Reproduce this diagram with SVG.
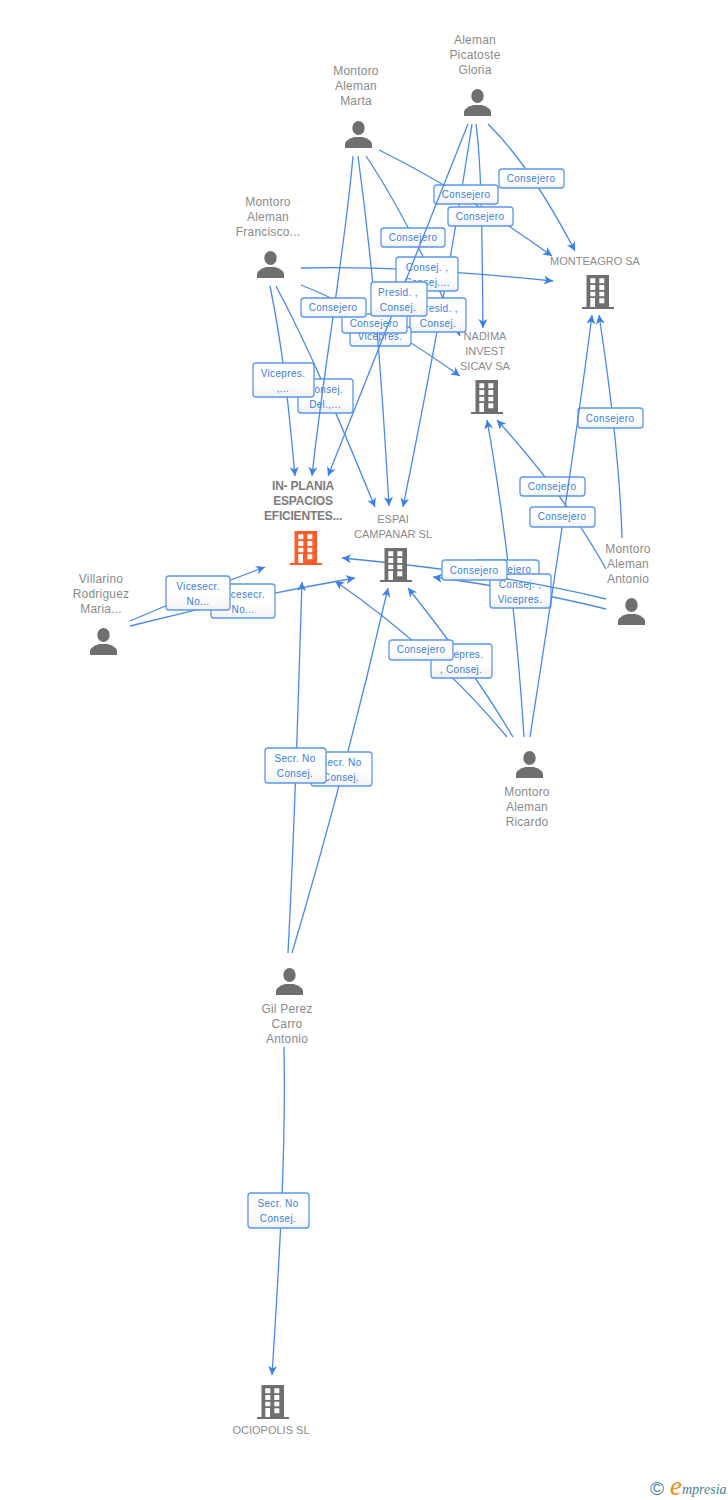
<svg xmlns="http://www.w3.org/2000/svg" width="728" height="1500" viewBox="0 0 728 1500">
<style>
text{font-family:"Liberation Sans",Arial,sans-serif}
.n{font-size:12px;fill:#8b8b8b;text-anchor:middle;letter-spacing:.2px}
.c{font-size:11px;fill:#8b8b8b;text-anchor:middle}
.b{font-size:12px;font-weight:bold;fill:#7c7c7c;text-anchor:middle;letter-spacing:-.2px}
.l{font-size:10px;fill:#3b7ddd;text-anchor:middle;letter-spacing:.35px}
.connectors path{fill:none;stroke:#4a8ae6;stroke-width:1.3;marker-end:url(#arrow)}
.labels rect{fill:url(#lg);stroke:#5b98ea;stroke-width:1.3}
.per{fill:#6f6f6f}.bld{fill:#6f6f6f}.hot{fill:#ff5a2b}
</style>
<defs>
<linearGradient id="lg" x1="0" y1="0" x2="0" y2="1"><stop offset="0" stop-color="#fff"/><stop offset=".6" stop-color="#fff"/><stop offset="1" stop-color="#f1f1f1"/></linearGradient>
<marker id="arrow" markerUnits="userSpaceOnUse" markerWidth="12" markerHeight="12" viewBox="0 0 12 12" refX="11" refY="6" orient="auto"><path d="M2,1.5 L11,6 L2,10.5 L4.5,6 Z" fill="#3b80e6"/></marker>
<symbol id="person" width="27" height="27" viewBox="0 0 27 27" overflow="visible"><ellipse cx="13.5" cy="7" rx="6.2" ry="7"/><path d="M0,27 L0,22.5 Q1,18.5 9.5,16 L17.5,16 Q26,18.5 27,22.5 L27,27 Z"/></symbol>
<symbol id="building" width="32" height="34" viewBox="0 0 32 34" overflow="visible"><path d="M0,32 H4.5 V0 H27 V32 H32 V34 H0 Z"/><path fill="#fff" d="M8.3,3.3h5v5h-5zM17.3,3.3h5v5h-5zM8.3,10h5v5h-5zM17.3,10h5v5h-5zM8.3,16.7h5v4.6h-5zM17.3,16.7h5v4.6h-5zM8.3,23h4.7v9h-4.7zM17.3,23.3h5v5h-5z"/></symbol>
</defs>

<g id="connectors-lower" class="connectors">
<path d="M270,286 C283,350 288,400 295,476"/>
<path d="M276,286 C310,350 335,410 375,507"/>
<path d="M301,285 Q370,312 460,376"/>
<path d="M301,268 Q400,265 553,281"/>
<path d="M488,124 Q530,165 575,251"/>
<path d="M476,124 C482,170 482,240 483,328"/>
<path d="M472,124 C462,190 445,300 403,507"/>
<path d="M379,150 Q460,190 552,256"/>
<path d="M366,156 Q410,222 460,336"/>
<path d="M130,621 Q190,595 265,567"/>
<path d="M130,626 Q240,598 355,578"/>
<path d="M524,737 C518,640 505,520 487,420"/>
<path d="M513,737 Q472,668 408,588"/>
<path d="M507,737 Q435,650 335,581"/>
<path d="M622,538 C620,470 612,400 599,315"/>
<path d="M606,569 Q565,495 497,420"/>
<path d="M606,609 Q530,590 433,577"/>
<path d="M288,953 C296,800 298,700 302,582"/>
<path d="M292,953 Q345,775 388,588"/>
<path d="M284,1047 C286,1150 280,1250 272,1375"/>
</g>

<g id="labels-lower" class="labels">
<g><rect x="381" y="228" width="64" height="19" rx="3"/><text class="l" x="413" y="241">Consejero</text></g>
<g><rect x="434" y="185" width="64" height="19" rx="3"/><text class="l" x="466" y="198">Consejero</text></g>
<g><rect x="448" y="207" width="65" height="19" rx="3"/><text class="l" x="480" y="220">Consejero</text></g>
<g><rect x="499" y="169" width="65" height="19" rx="3"/><text class="l" x="531" y="182">Consejero</text></g>
<g><rect x="396" y="257" width="62" height="34" rx="3"/><text class="l" x="427" y="271">Consej. ,</text><text class="l" x="427" y="286">Consej....</text></g>
<g><rect x="410" y="298" width="56" height="34" rx="3"/><text class="l" x="438" y="312">Presid. ,</text><text class="l" x="438" y="327">Consej.</text></g>
<g><rect x="350" y="327" width="61" height="19" rx="3"/><text class="l" x="380" y="340">Vicepres.</text></g>
<g><rect x="298" y="379" width="55" height="34" rx="3"/><text class="l" x="325" y="393">Consej.</text><text class="l" x="325" y="408">Del.,...</text></g>
<g><rect x="253" y="363" width="61" height="34" rx="3"/><text class="l" x="283" y="377">Vicepres.</text><text class="l" x="283" y="392">,...</text></g>
<g><rect x="211" y="584" width="64" height="34" rx="3"/><text class="l" x="243" y="598">Vicesecr.</text><text class="l" x="243" y="613">No...</text></g>
<g><rect x="166" y="576" width="64" height="34" rx="3"/><text class="l" x="198" y="590">Vicesecr.</text><text class="l" x="198" y="605">No...</text></g>
<g><rect x="520" y="477" width="65" height="19" rx="3"/><text class="l" x="552" y="490">Consejero</text></g>
<g><rect x="578" y="408" width="65" height="20" rx="3"/><text class="l" x="610" y="422">Consejero</text></g>
<g><rect x="475" y="560" width="64" height="19" rx="3"/><text class="l" x="507" y="573">Consejero</text></g>
<g><rect x="490" y="574" width="61" height="34" rx="3"/><text class="l" x="520" y="588">Consej. ,</text><text class="l" x="520" y="603">Vicepres.</text></g>
<g><rect x="431" y="644" width="61" height="34" rx="3"/><text class="l" x="461" y="658">Vicepres.</text><text class="l" x="461" y="673">, Consej.</text></g>
<g><rect x="389" y="640" width="64" height="20" rx="3"/><text class="l" x="421" y="653">Consejero</text></g>
<g><rect x="311" y="752" width="61" height="34" rx="3"/><text class="l" x="341" y="766">Secr.  No</text><text class="l" x="341" y="781">Consej.</text></g>
<g><rect x="265" y="748" width="61" height="35" rx="3"/><text class="l" x="295" y="762">Secr.  No</text><text class="l" x="295" y="777">Consej.</text></g>
<g><rect x="248" y="1193" width="61" height="35" rx="3"/><text class="l" x="278" y="1207">Secr.  No</text><text class="l" x="278" y="1222">Consej.</text></g>
</g>

<g id="connectors-middle" class="connectors">
<path d="M358,156 C372,260 380,350 389,506"/>
<path d="M606,599 Q500,573 342,558"/>
<path d="M530,737 C545,640 575,450 592,315"/>
</g>

<g id="labels-middle" class="labels">
<g><rect x="342" y="314" width="65" height="19" rx="3"/><text class="l" x="374" y="327">Consejero</text></g>
<g><rect x="442" y="560" width="65" height="20" rx="3"/><text class="l" x="474" y="574">Consejero</text></g>
<g><rect x="530" y="507" width="65" height="20" rx="3"/><text class="l" x="562" y="520">Consejero</text></g>
</g>

<g id="connectors-upper" class="connectors">
<path d="M468,124 L328,476"/>
<path d="M353,156 C345,250 322,380 312,476"/>
</g>

<g id="labels-upper" class="labels">
<g><rect x="371" y="282" width="56" height="34" rx="3"/><text class="l" x="398" y="296">Presid. ,</text><text class="l" x="398" y="311">Consej.</text></g>
<g><rect x="301" y="298" width="65" height="19" rx="3"/><text class="l" x="333" y="311">Consejero</text></g>
</g>

<g id="node-gloria" class="per"><use href="#person" x="464" y="89"/><text class="n" x="475" y="44">Aleman</text><text class="n" x="475" y="59">Picatoste</text><text class="n" x="475" y="74">Gloria</text></g>
<g id="node-marta" class="per"><use href="#person" x="345" y="121"/><text class="n" x="356" y="75">Montoro</text><text class="n" x="356" y="90">Aleman</text><text class="n" x="356" y="105">Marta</text></g>
<g id="node-francisco" class="per"><use href="#person" x="257" y="251"/><text class="n" x="268" y="206">Montoro</text><text class="n" x="268" y="221">Aleman</text><text class="n" x="268" y="236">Francisco...</text></g>
<g id="node-villarino" class="per"><use href="#person" x="90" y="628"/><text class="n" x="101" y="583">Villarino</text><text class="n" x="101" y="598">Rodriguez</text><text class="n" x="101" y="613">Maria...</text></g>
<g id="node-antonio" class="per"><use href="#person" x="618" y="598"/><text class="n" x="628" y="553">Montoro</text><text class="n" x="628" y="568">Aleman</text><text class="n" x="628" y="583">Antonio</text></g>
<g id="node-ricardo" class="per"><use href="#person" x="516" y="751"/><text class="n" x="527" y="796">Montoro</text><text class="n" x="527" y="811">Aleman</text><text class="n" x="527" y="826">Ricardo</text></g>
<g id="node-gil" class="per"><use href="#person" x="276" y="968"/><text class="n" x="287" y="1013">Gil Perez</text><text class="n" x="287" y="1028">Carro</text><text class="n" x="287" y="1043">Antonio</text></g>

<g id="node-monteagro" class="bld"><use href="#building" x="582" y="275"/><text class="c" x="595" y="265">MONTEAGRO SA</text></g>
<g id="node-nadima" class="bld"><use href="#building" x="471" y="380"/><text class="c" x="485" y="340">NADIMA</text><text class="c" x="485" y="355">INVEST</text><text class="c" x="485" y="370">SICAV SA</text></g>
<g id="node-inplania" class="hot"><use href="#building" x="290" y="531"/><text class="b" x="303" y="490">IN- PLANIA</text><text class="b" x="303" y="505">ESPACIOS</text><text class="b" x="303" y="520">EFICIENTES...</text></g>
<g id="node-espai" class="bld"><use href="#building" x="380" y="548"/><text class="c" x="393" y="523">ESPAI</text><text class="c" x="393" y="538">CAMPANAR SL</text></g>
<g id="node-ociopolis" class="bld"><use href="#building" x="257" y="1385"/><text class="c" x="271" y="1434">OCIOPOLIS SL</text></g>

<g id="logo">
<text x="650" y="1495" style="font-size:19px;fill:#3f8299">©</text>
<text x="670" y="1495" style="font-family:'Liberation Serif',serif;font-style:italic;font-size:27px;fill:#f08a1d">e</text>
<text x="682" y="1494" style="font-family:'Liberation Serif',serif;font-style:italic;font-size:14px;fill:#3f8299">mpresia</text>
</g>
</svg>
